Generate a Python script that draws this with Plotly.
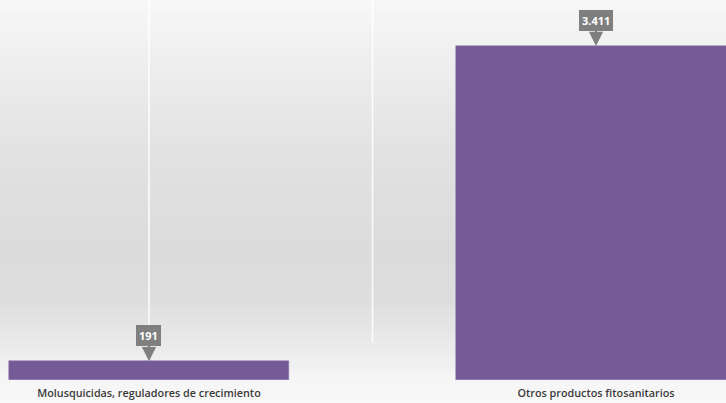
import plotly.graph_objects as go

categories = ["Molusquicidas, reguladores de crecimiento", "Otros productos fitosanitarios"]
values = [191, 3411]
labels = ["191", "3.411"]

W, H = 726, 403
MB = 23
plot_h = H - MB

fig = go.Figure()
fig.add_trace(go.Bar(
    x=categories, y=values,
    width=0.626,
    marker=dict(color="#765a97", line=dict(color="#8a72aa", width=0.5)),
    hoverinfo="skip",
))

# background gradient (style only)
stops = [(0, 247), (150, 226), (250, 219), (300, 221), (345, 234), (380, 245), (403, 248)]
def shade(py):
    for (a, ca), (b, cb) in zip(stops[:-1], stops[1:]):
        if a <= py <= b:
            t = (py - a) / (b - a)
            return round(ca + (cb - ca) * t)
    return stops[-1][1]

shapes = []
n = 100
for i in range(n):
    p0 = H * i / n
    p1 = H * (i + 1) / n
    c = shade((p0 + p1) / 2)
    y0 = (plot_h - p1) / plot_h
    y1 = (plot_h - p0) / plot_h
    shapes.append(dict(type="rect", xref="paper", yref="paper", x0=-0.01, x1=1.01,
                       y0=y0 - 0.001, y1=y1 + 0.001, fillcolor=f"rgb({c},{c},{c})",
                       line=dict(width=0), layer="below"))
for xv in [0, 0.5]:
    shapes.append(dict(type="line", xref="x", yref="paper", x0=xv, x1=xv, y0=0.1, y1=1,
                       line=dict(color="rgba(255,255,255,0.85)", width=1.6), layer="below"))

annotations = []
for c, v, t in zip(categories, values, labels):
    annotations.append(dict(
        x=c, y=v, xref="x", yref="y", text=f"<b>{t}</b>",
        showarrow=True, arrowhead=2, arrowsize=1.3, arrowwidth=2.2, arrowcolor="#7f7f7f",
        ax=0, ay=-26, standoff=0,
        bgcolor="#7f7f7f", borderpad=3, bordercolor="#7f7f7f", borderwidth=0,
        font=dict(family="Open Sans", size=11, color="white"),
    ))

fig.update_layout(
    width=W, height=H,
    margin=dict(l=0, r=0, t=0, b=MB),
    paper_bgcolor="#f2f2f2", plot_bgcolor="rgba(0,0,0,0)",
    showlegend=False,
    shapes=shapes, annotations=annotations,
    bargap=0,
    xaxis=dict(range=[-0.3333, 1.2908], showgrid=False, zeroline=False, showline=False,
               ticks="", ticklabelstandoff=5,
               tickfont=dict(family="Open Sans", size=10.8, color="#3a3a3a", weight=600)),
    yaxis=dict(range=[0, 3881], showgrid=False, zeroline=False, showline=False,
               showticklabels=False, ticks=""),
)

fig.write_html("out.html", config={"displayModeBar": False},
               post_script="document.body.style.margin='0';document.body.style.overflow='hidden';")
